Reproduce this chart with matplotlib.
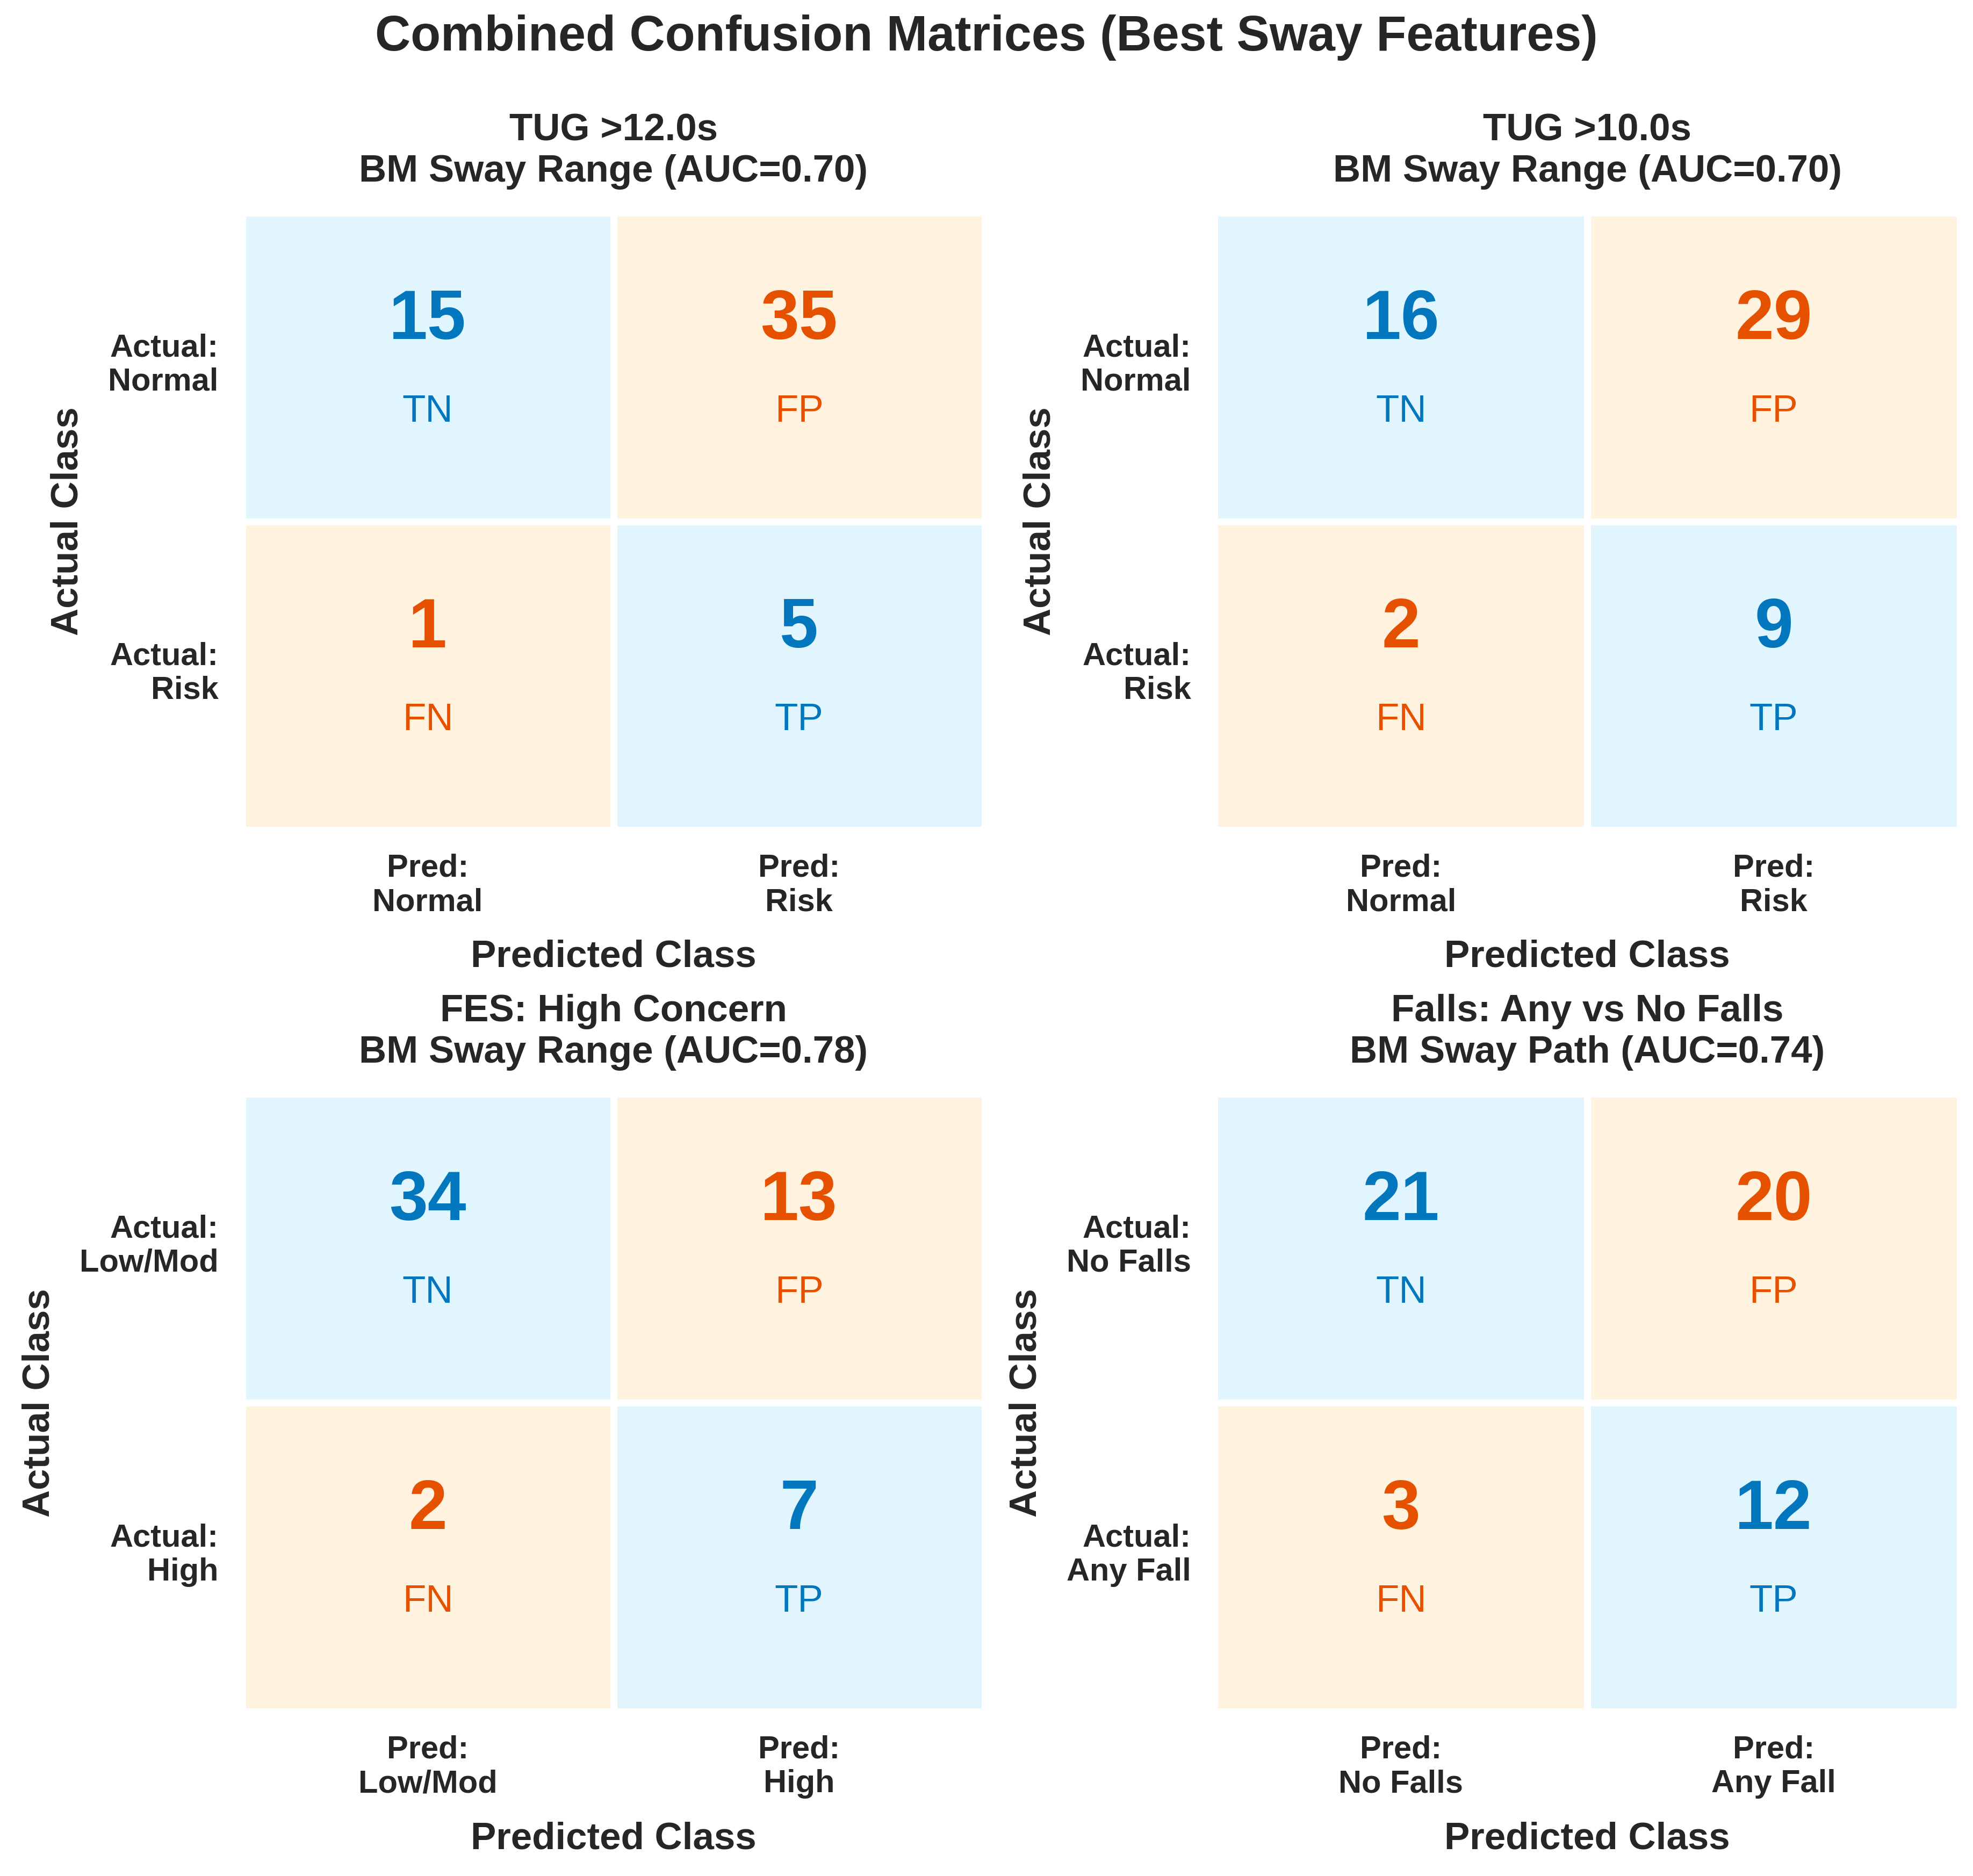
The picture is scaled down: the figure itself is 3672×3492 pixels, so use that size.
import numpy as np
import matplotlib
matplotlib.use("Agg")
import matplotlib.pyplot as plt
from matplotlib.colors import ListedColormap

plt.rcParams['font.family'] = ['Liberation Sans', 'DejaVu Sans']
plt.rcParams['text.color'] = '#262626'
plt.rcParams['axes.labelcolor'] = '#262626'
plt.rcParams['xtick.color'] = '#262626'
plt.rcParams['ytick.color'] = '#262626'

# ---- data ----
outcomes = ['TUG >12.0s', 'TUG >10.0s', 'FES: High Concern', 'Falls: Any vs No Falls']
features = ['BM Sway Range', 'BM Sway Range', 'BM Sway Range', 'BM Sway Path']
aucs = [0.70, 0.70, 0.78, 0.74]
neg_names = ['Normal', 'Normal', 'Low/Mod', 'No Falls']
pos_names = ['Risk', 'Risk', 'High', 'Any Fall']
tn = [15, 16, 34, 21]
fp = [35, 29, 13, 20]
fn = [1, 2, 2, 3]
tp = [5, 9, 7, 12]

cell_tags = [['TN', 'FP'], ['FN', 'TP']]
correct = np.array([[1, 0], [0, 1]])

blue = '#0277BD'
orange = '#E65100'
bg_cmap = ListedColormap(['#FFF3E0', '#E1F5FE'])

fig = plt.figure(figsize=(12.24, 11.64), dpi=300)
boxes = [
    [0.1227, 0.5576, 0.3764, 0.3289],
    [0.6156, 0.5576, 0.3778, 0.3289],
    [0.1227, 0.0876, 0.3764, 0.3294],
    [0.6156, 0.0876, 0.3778, 0.3294],
]

for k in range(4):
    ax = fig.add_axes(boxes[k])
    cm = np.array([[tn[k], fp[k]], [fn[k], tp[k]]])
    ax.pcolormesh(correct, cmap=bg_cmap, vmin=0, vmax=1,
                  edgecolors='white', linewidth=3)
    ax.set_xlim(0, 2)
    ax.set_ylim(2, 0)
    for i in range(2):
        for j in range(2):
            col = blue if correct[i, j] else orange
            ax.text(j + 0.5, i + 0.35, str(cm[i, j]), ha='center', va='center',
                    fontsize=31, fontweight='bold', color=col)
            ax.text(j + 0.5, i + 0.645, cell_tags[i][j], ha='center', va='center',
                    fontsize=17, color=col)
    for s in ax.spines.values():
        s.set_visible(False)
    ax.set_xticks([0.5, 1.5])
    # row labels sit slightly above the cell centres
    ax.set_yticks([0.475, 1.475])
    ax.set_xticklabels(['Pred:\n' + neg_names[k], 'Pred:\n' + pos_names[k]],
                       fontsize=14.3, fontweight='bold')
    ax.set_yticklabels(['Actual:\n' + neg_names[k], 'Actual:\n' + pos_names[k]],
                       fontsize=14.3, fontweight='bold', rotation=0, ha='right')
    ax.tick_params(length=0, pad=10.5)
    ax.set_xlabel('Predicted Class', fontsize=17, fontweight='bold', labelpad=10)
    ax.set_ylabel('Actual Class', fontsize=17, fontweight='bold', labelpad=10)
    ax.set_title(f'{outcomes[k]}\n{features[k]} (AUC={aucs[k]:.2f})',
                 fontsize=17, fontweight='bold', pad=14)

fig.suptitle('Combined Confusion Matrices (Best Sway Features)',
             fontsize=22, fontweight='bold', y=0.98, va='center')

fig.savefig('out.png', dpi=300)
